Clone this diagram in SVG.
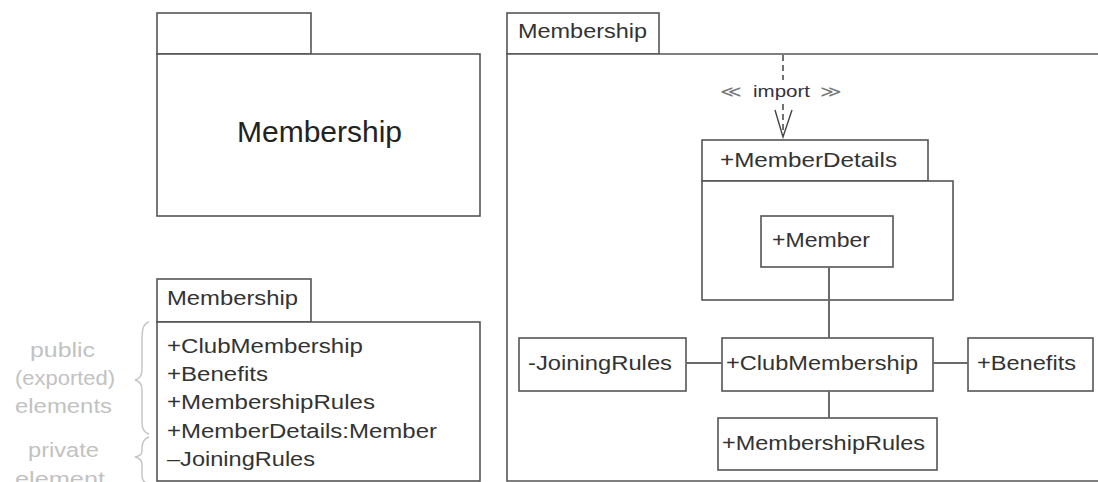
<svg xmlns="http://www.w3.org/2000/svg" width="1098" height="482" viewBox="0 0 1098 482">
  <style>
    .box { fill: #ffffff; stroke: #555555; stroke-width: 1.6; }
    .lbl { font-family: "Liberation Sans", Arial, sans-serif; font-size: 20px; fill: #333333; }
    .note { font-family: "Liberation Sans", Arial, sans-serif; font-size: 20px; fill: #c2c2c2; }
    .brace { fill: none; stroke: #c4c4c4; stroke-width: 1.4; }
    .link { fill: none; stroke: #6a6a6a; stroke-width: 2; }
    .dep { fill: none; stroke: #444444; stroke-width: 1.5; stroke-dasharray: 6 4; }
  </style>

  <rect width="1098" height="482" fill="#ffffff"/>

  <!-- Collapsed package: name shown in the body -->
  <g id="pkg-collapsed">
    <rect class="box" x="157" y="13" width="154" height="41"/>
    <rect class="box" x="157" y="54" width="323" height="162"/>
    <text x="237" y="142" font-family="'Liberation Sans', Arial, sans-serif" font-size="30" fill="#222222" textLength="165" lengthAdjust="spacingAndGlyphs">Membership</text>
  </g>

  <!-- Package listing its members -->
  <g id="pkg-listing">
    <rect class="box" x="157" y="279" width="154" height="43"/>
    <rect class="box" x="157" y="322" width="323" height="159"/>
    <text class="lbl" x="167" y="305" font-size="19" textLength="131" lengthAdjust="spacingAndGlyphs">Membership</text>
    <text class="lbl" x="167" y="353" textLength="196" lengthAdjust="spacingAndGlyphs">+ClubMembership</text>
    <text class="lbl" x="167" y="381" textLength="101" lengthAdjust="spacingAndGlyphs">+Benefits</text>
    <text class="lbl" x="167" y="409" textLength="208" lengthAdjust="spacingAndGlyphs">+MembershipRules</text>
    <text class="lbl" x="167" y="438" textLength="270" lengthAdjust="spacingAndGlyphs">+MemberDetails:Member</text>
    <text class="lbl" x="167" y="466" textLength="148" lengthAdjust="spacingAndGlyphs">–JoiningRules</text>
  </g>

  <!-- Visibility annotations -->
  <g id="annotations">
    <path class="brace" d="M149,322 C142,324 142,332 142,342 L142,370 C142,377 139,379 135,380 C139,381 142,383 142,390 L142,420 C142,428 143,432 149,434"/>
    <path class="brace" d="M149,437 C143,439 142,443 142,448 L142,451 C142,455 139,456 135,457 C139,458 142,460 142,464 L142,474 C142,480 143,482 149,484"/>
    <text class="note" x="30" y="357" textLength="65" lengthAdjust="spacingAndGlyphs">public</text>
    <text class="note" x="15" y="385" textLength="100" lengthAdjust="spacingAndGlyphs">(exported)</text>
    <text class="note" x="15" y="413" textLength="97" lengthAdjust="spacingAndGlyphs">elements</text>
    <text class="note" x="28" y="457" textLength="71" lengthAdjust="spacingAndGlyphs">private</text>
    <text class="note" x="15" y="486" textLength="90" lengthAdjust="spacingAndGlyphs">element</text>
  </g>

  <!-- Expanded package frame -->
  <g id="pkg-expanded">
    <rect class="box" x="507" y="13" width="152" height="41"/>
    <path class="box" d="M1099,54 L507,54 L507,481 L1099,481"/>
    <text class="lbl" x="518" y="38" font-size="19" textLength="129" lengthAdjust="spacingAndGlyphs">Membership</text>
  </g>

  <!-- Nested package MemberDetails -->
  <g id="pkg-memberdetails">
    <rect class="box" x="702" y="140" width="226" height="41"/>
    <rect class="box" x="702" y="181" width="251" height="119"/>
    <text class="lbl" x="720" y="167" textLength="177" lengthAdjust="spacingAndGlyphs">+MemberDetails</text>
  </g>

  <g id="member">
    <rect class="box" x="761" y="216" width="132" height="51"/>
    <text class="lbl" x="772" y="247" textLength="98" lengthAdjust="spacingAndGlyphs">+Member</text>
  </g>

  <g id="joiningrules">
    <rect class="box" x="519" y="338" width="167" height="53"/>
    <text class="lbl" x="528" y="370" textLength="144" lengthAdjust="spacingAndGlyphs">-JoiningRules</text>
  </g>

  <g id="clubmembership">
    <rect class="box" x="722" y="338" width="211" height="53"/>
    <text class="lbl" x="726" y="370" textLength="192" lengthAdjust="spacingAndGlyphs">+ClubMembership</text>
  </g>

  <g id="benefits">
    <rect class="box" x="968" y="338" width="125" height="53"/>
    <text class="lbl" x="977" y="370" textLength="99" lengthAdjust="spacingAndGlyphs">+Benefits</text>
  </g>

  <g id="membershiprules">
    <rect class="box" x="718" y="418" width="219" height="52"/>
    <text class="lbl" x="722" y="450" textLength="203" lengthAdjust="spacingAndGlyphs">+MembershipRules</text>
  </g>

  <!-- Connectors -->
  <g id="connectors">
    <line class="link" x1="829" y1="267" x2="829" y2="338"/>
    <line class="link" x1="829" y1="391" x2="829" y2="418"/>
    <line class="link" x1="686" y1="363" x2="722" y2="363"/>
    <line class="link" x1="933" y1="363" x2="968" y2="363"/>
    <!-- import dependency -->
    <line class="dep" x1="783" y1="55" x2="783" y2="80"/>
    <line class="dep" x1="783" y1="104" x2="783" y2="136"/>
    <polyline fill="none" stroke="#444444" stroke-width="1.4" points="775,110 783,137 792,110"/>
    <text x="720" y="97" font-family="'Liberation Sans', Arial, sans-serif" font-size="16" fill="#777777" textLength="22" lengthAdjust="spacingAndGlyphs">≪</text>
    <text x="753" y="97" font-family="'Liberation Sans', Arial, sans-serif" font-size="16" fill="#333340" textLength="57" lengthAdjust="spacingAndGlyphs">import</text>
    <text x="820" y="97" font-family="'Liberation Sans', Arial, sans-serif" font-size="16" fill="#777777" textLength="22" lengthAdjust="spacingAndGlyphs">≫</text>
  </g>
</svg>
